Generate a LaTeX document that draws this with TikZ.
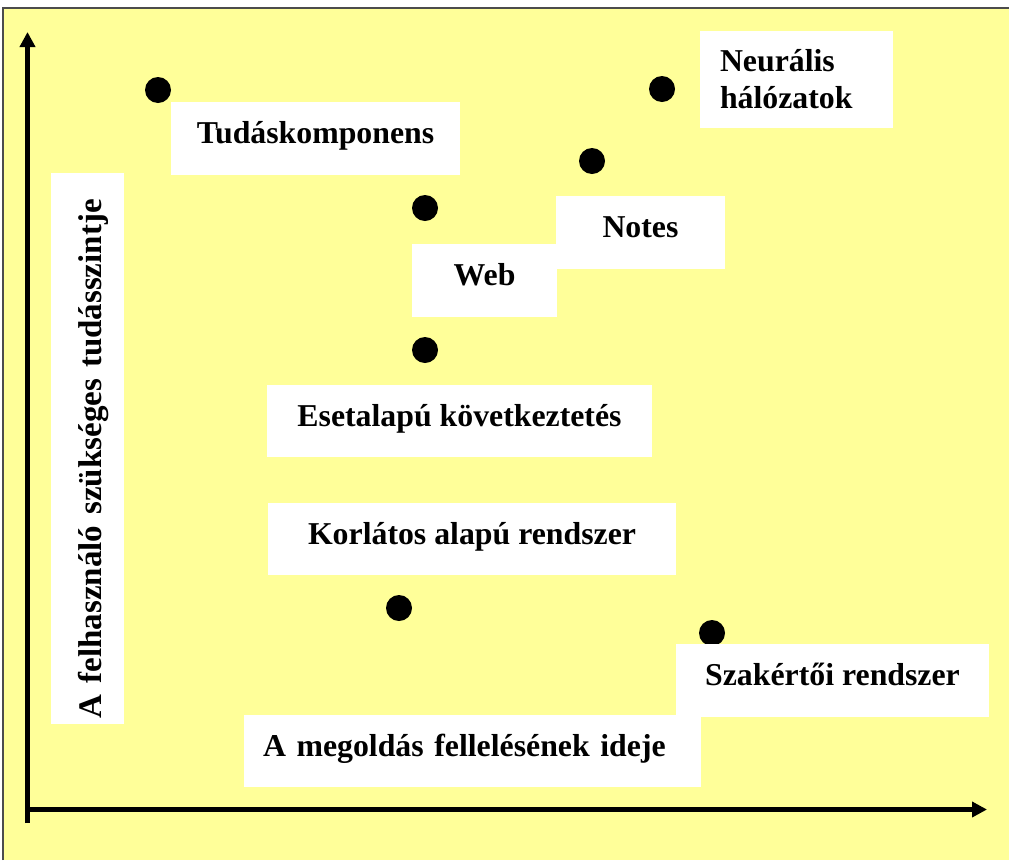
\documentclass[tikz,border=0pt]{standalone}
\usepackage{fontspec}
\setmainfont{Liberation Serif}
\usetikzlibrary{arrows.meta}
\definecolor{paper}{HTML}{FFFF99}
\definecolor{framerule}{gray}{0.3}
\tikzset{
  textbox/.style={fill=white, inner xsep=0pt, inner ysep=0pt,
    font=\fontsize{31.8}{37}\selectfont\bfseries},
  oneline/.style={textbox, text height=22pt, text depth=12pt},
  dot/.style={circle, fill=black, inner sep=0pt, minimum size=26pt},
  axis/.style={line width=4.5pt, -{Triangle[length=15pt,width=15pt]}},
}
\begin{document}
\begin{tikzpicture}[x=1pt,y=-1pt]
\useasboundingbox (0,0) rectangle (1009,860);
\fill[white] (0,0) rectangle (1009,860);
\fill[paper] (3,8) rectangle (1009,860);
\draw[framerule, line width=2pt] (3,860) -- (3,8) -- (1009,8);

% axes
\coordinate (ybot) at (27.5,823);
\coordinate (ytop) at (27.5,32);
\coordinate (xstart) at (27.5,809.5);
\coordinate (xend) at (987,809.5);
\draw[axis] (ybot) -- (ytop);
\draw[axis] (xstart) -- (xend);

% markers
\node[dot] (dtk) at (158,90) {};
\node[dot] (dweb) at (425,208) {};
\node[dot] (dnotes) at (592,161) {};
\node[dot] (dnn) at (662,89) {};
\node[dot] (dese) at (425,350) {};
\node[dot] (dkor) at (399,608) {};
\node[dot] (dsz) at (712,633) {};

% labels
\node[textbox, minimum width=193pt, minimum height=97pt, inner xsep=20pt,
      text width=153pt, align=left] (nn) at (796.5,79.5)
      {\raisebox{-2pt}{Neurális}\\\raisebox{-2pt}{hálózatok}};
\node[oneline, minimum width=289pt, minimum height=73pt] (tk) at (315.5,138.5) {Tudáskomponens};
\node[oneline, minimum width=169pt, minimum height=73pt] (notes) at (640.5,232.5) {Notes};
\node[oneline, minimum width=145pt, minimum height=73pt] (web) at (484.5,280.5) {Web};
\node[oneline, minimum width=385pt, minimum height=72pt] (ese) at (459.5,421) {Esetalapú következtetés};
\node[oneline, minimum width=408pt, minimum height=72pt] (kor) at (472,539) {Korlátos alapú rendszer};
\node[oneline, minimum width=313pt, minimum height=73pt] (sz) at (832.5,680.5) {Szakértői rendszer};
\node[oneline, minimum width=457pt, minimum height=72pt, inner xsep=19pt,
      text width=419pt, align=left] (meg) at (472.5,751) {A megoldás fellelésének ideje};
\node[textbox, rotate=90, minimum width=551pt, minimum height=73pt, inner xsep=6pt,
      text width=539pt, align=left, text height=31pt, text depth=4pt,
      font=\fontsize{33}{38}\selectfont\bfseries] (yl) at (87.5,448.5)
      {A felhasználó szükséges tudásszintje};
\end{tikzpicture}
\end{document}
